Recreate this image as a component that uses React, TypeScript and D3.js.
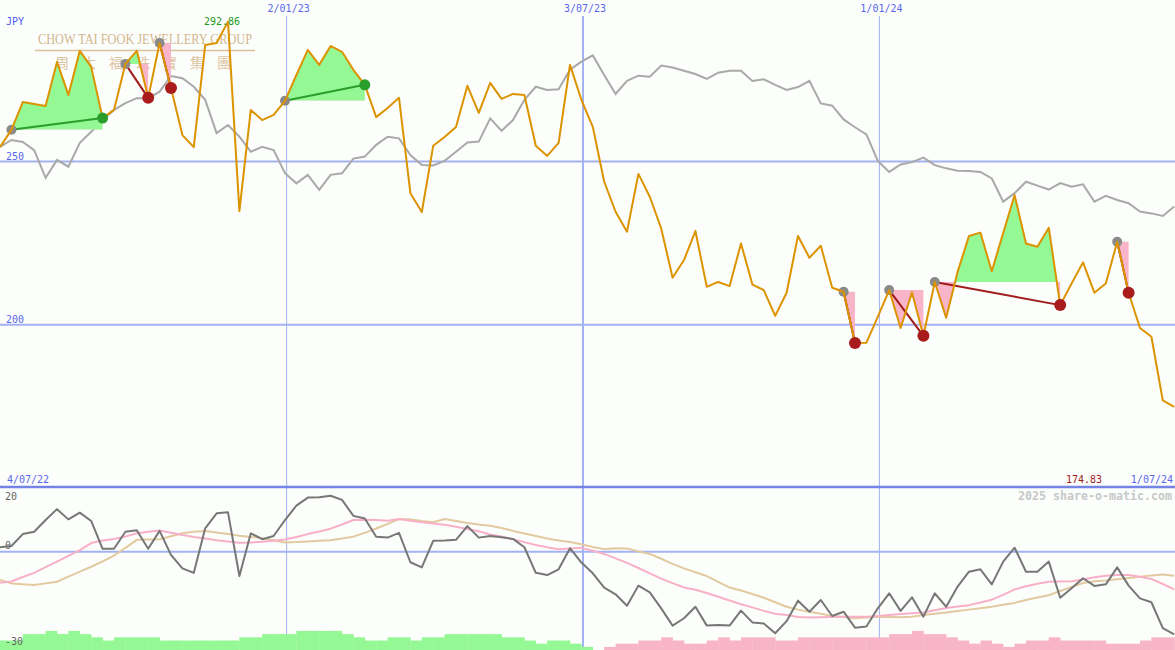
import React, { useEffect } from 'react';
import * as d3 from 'd3';

// ---------------- DATA ----------------
const startDate = new Date(2022, 6, 10);
const firstLabel = '4/07/22';
const lastLabel = '1/07/24';
const currencyLabel = 'JPY';

// weekly closing price (JPY)
const price: number[] = [
  254.4, 259.7, 268.2, 267.6, 267.0, 280.5, 270.4, 283.9, 279.0, 263.3,
  265.8, 279.9, 283.9, 269.5, 286.3, 272.5, 258.1, 254.4, 285.7, 286.3,
  292.86, 234.8, 265.8, 262.7, 264.3, 268.6, 276.5, 284.2, 279.6, 285.4,
  283.6, 278.1, 273.5, 263.6, 266.4, 269.5, 240.3, 234.5, 254.8, 257.5,
  260.6, 273.2, 264.9, 274.1, 269.2, 270.7, 270.4, 254.8, 251.7, 255.7,
  279.6, 268.9, 260.6, 243.8, 234.6, 228.5, 246.2, 239.2, 229.5, 214.4,
  219.8, 228.7, 211.6, 213.1, 211.8, 224.9, 212.3, 210.6, 202.7, 209.8,
  227.2, 220.5, 224.2, 211.3, 210.1, 194.4, 194.5, 202.4, 210.6, 199.0,
  209.9, 196.6, 213.1, 202.1, 216.2, 227.2, 228.2, 216.4, 228.1, 239.7,
  224.9, 223.9, 229.7, 206.0, 212.6, 219.1, 209.8, 212.6, 225.4, 209.8,
  199.0, 196.3, 176.8, 174.83,
];

// comparison (relative) line
const relative: number[] = [
  254.5, 256.6, 256.0, 253.5, 245.0, 250.5, 248.4, 255.7, 259.1, 262.7,
  265.8, 267.9, 269.4, 269.4, 271.4, 276.2, 275.5, 272.9, 268.9, 258.7,
  261.2, 257.6, 253.0, 254.5, 253.5, 246.4, 243.3, 245.9, 241.3, 245.9,
  246.4, 250.9, 251.5, 255.1, 257.6, 257.1, 252.0, 248.9, 248.8, 250.2,
  253.0, 255.8, 256.1, 263.2, 259.4, 262.7, 268.9, 272.9, 271.9, 272.1,
  278.1, 280.6, 282.5, 276.5, 270.7, 274.7, 276.3, 276.0, 279.4, 278.8,
  277.8, 276.8, 275.3, 277.2, 277.8, 277.8, 274.7, 275.2, 273.5, 271.9,
  272.8, 274.7, 267.8, 267.1, 262.9, 260.5, 258.3, 250.2, 246.8, 249.1,
  249.8, 251.2, 248.9, 247.9, 247.2, 247.1, 246.8, 244.8, 237.7, 240.3,
  243.8, 242.6, 241.4, 243.4, 242.3, 243.0, 237.7, 239.5, 238.2, 237.2,
  234.7, 234.1, 233.3, 236.2,
];

// oscillator panel
const momentum: number[] = [
  1.4, 1.8, 5.5, 6.25, 9.9, 13.3, 10.1, 12.2, 9.6, 0.9,
  0.9, 6.25, 6.7, 0.9, 6.5, -1.0, -5.2, -6.6, 7.3, 12.0,
  12.3, -7.6, 5.75, 3.9, 4.9, 9.9, 14.4, 16.9, 17.0, 17.5,
  16.2, 11.2, 10.4, 4.7, 4.4, 5.9, -3.3, -4.9, 3.4, 3.5,
  3.7, 8.0, 4.4, 4.9, 4.5, 4.0, 1.4, -6.6, -7.3, -5.5,
  1.1, -3.4, -6.75, -11.25, -13.3, -16.9, -10.6, -12.7, -17.7, -23.1,
  -20.8, -17.2, -23.1, -22.9, -23.1, -18.4, -22.1, -22.4, -25.5, -21.7,
  -15.3, -18.75, -15.1, -20.1, -18.75, -23.75, -23.4, -17.7, -13.0, -18.5,
  -14.25, -20.3, -13.0, -17.2, -10.9, -6.25, -5.5, -10.2, -3.1, 1.25,
  -6.25, -6.25, -3.1, -14.4, -11.4, -8.3, -10.7, -10.2, -4.9, -10.6,
  -14.6, -15.8, -23.9, -25.8,
];

const signalFast: number[] = [
  -9.7, -9.3, -7.9, -6.6, -4.8, -3.1, -1.3, 0.5, 2.7, 3.5,
  4.0, 4.75, 5.75, 6.2, 6.6, 5.9, 5.2, 4.6, 4.1, 3.6,
  3.2, 2.8, 2.9, 3.1, 3.4, 3.8, 4.6, 5.5, 6.3, 7.2,
  8.5, 9.9, 10.0, 9.9, 9.7, 10.2, 9.7, 9.2, 8.8, 8.4,
  7.8, 7.1, 6.4, 5.4, 4.75, 3.9, 3.0, 2.1, 1.4, 0.8,
  1.0, 1.2, 0.3, -0.7, -2.1, -3.5, -5.1, -6.75, -8.4, -9.8,
  -11.2, -11.9, -12.9, -14.1, -15.25, -16.4, -17.4, -18.5, -19.4, -19.8,
  -20.4, -20.6, -20.5, -20.4, -20.3, -20.3, -20.3, -20.1, -19.8, -19.5,
  -19.2, -19.0, -18.3, -17.6, -17.1, -16.7, -15.9, -15.0, -13.5, -11.8,
  -10.8, -10.0, -9.4, -9.3, -9.2, -8.7, -8.0, -7.5, -7.3, -7.3,
  -7.8, -8.5, -10.1, -11.8,
];

const signalSlow: number[] = [
  -8.8, -9.9, -10.2, -10.4, -9.9, -9.4, -7.8, -6.25, -4.7, -3.0,
  -1.2, 1.2, 3.7, 3.8, 3.9, 4.8, 5.75, 6.2, 6.5, 6.0,
  5.5, 5.0, 4.6, 4.2, 3.6, 2.9, 3.0, 3.2, 3.4, 3.6,
  4.1, 4.7, 5.9, 7.25, 8.7, 10.2, 10.1, 9.6, 9.2, 10.2,
  9.6, 9.0, 8.5, 8.1, 7.4, 6.5, 5.7, 4.9, 4.1, 3.5,
  3.0, 2.3, 1.5, 0.8, 1.1, 1.0, 0.1, -0.7, -2.2, -3.8,
  -5.2, -6.4, -7.6, -9.4, -11.2, -12.1, -13.2, -14.4, -15.8, -17.2,
  -18.1, -18.8, -19.4, -20.1, -20.4, -20.8, -20.6, -20.3, -20.4, -20.5,
  -20.3, -19.8, -19.4, -19.0, -18.5, -18.1, -17.7, -17.2, -16.6, -16.0,
  -15.1, -14.3, -13.6, -12.3, -11.0, -9.8, -9.2, -9.0, -8.6, -8.2,
  -7.8, -7.4, -7.1, -7.5,
];

// trend histogram (positive = green, negative = pink)
const histogram: number[] = [
  3, 3, 5, 5, 6, 5, 6, 5, 4, 3,
  4, 4, 4, 4, 3, 3, 3, 3, 3, 3,
  3, 4, 4, 5, 5, 5, 6, 6, 6, 6,
  5, 4, 3, 3, 4, 4, 3, 4, 4, 5,
  5, 5, 5, 5, 4, 4, 3, 2, 3, 3,
  2, 1, 0, -1, -2, -2, -3, -3, -4, -3,
  -2, -2, -3, -4, -3, -4, -4, -4, -3, -3,
  -4, -4, -4, -4, -4, -4, -4, -4, -5, -5,
  -6, -5, -5, -4, -3, -2, -3, -2, -1, -2,
  -3, -3, -4, -3, -3, -3, -3, -2, -2, -2,
  -3, -4, -4, -4,
];

// trade signals (week indexes)
const tradeEntry: number[] = [1, 11, 14, 25, 74, 78, 82, 98];
const tradeExit: number[] = [9, 13, 15, 32, 75, 81, 93, 99];

// axis grid
const gridDates: Date[] = [new Date(2023, 0, 2), new Date(2023, 6, 3), new Date(2024, 0, 1)];
const gridLabels: string[] = ['2/01/23', '3/07/23', '1/01/24'];
const priceTicks: number[] = [250, 200];
const oscTicks: number[] = [20, 0, -30];

const brandEn = 'CHOW TAI FOOK JEWELLERY GROUP';
const brandZh: string[] = ['周', '大', '福', '珠', '寶', '集', '團'];
const copyright = '2025 share-o-matic.com';

// ---------------- CHART ----------------
const W = 1175;
const H = 650;
const MAIN_BOTTOM = 487;
const HIST_BASE = -30.75;

const dates = price.map((_, i) => new Date(startDate.getFullYear(), startDate.getMonth(), startDate.getDate() + 7 * i));

const x = d3.scaleTime().domain([dates[0], dates[dates.length - 1]]).range([0, 1174.2]);
const yMain = d3.scaleLinear().domain([200, 250]).range([324.7, 161.5]);
const yOsc = d3.scaleLinear().domain([-30, 20]).range([647.7, 487.7]);

const mainLine = d3.line<number>().x((_, i) => x(dates[i])).y((v) => yMain(v));
const oscLine = d3.line<number>().x((_, i) => x(dates[i])).y((v) => yOsc(v));

const MONO = '"DejaVu Sans Mono", monospace';

export default function App() {
  useEffect(() => {
    document.body.style.margin = '0';
  }, []);

  const maxIdx = d3.maxIndex(price);
  const lastVal = price[price.length - 1];

  return (
    <div style={{ position: 'absolute', left: 0, top: 0 }}>
      <svg width={W} height={H} viewBox={`0 0 ${W} ${H}`} style={{ display: 'block', background: '#fcfefb' }}>
        <defs>
          <clipPath id="mainClip">
            <rect x={0} y={0} width={W} height={MAIN_BOTTOM} />
          </clipPath>
          <clipPath id="oscClip">
            <rect x={0} y={MAIN_BOTTOM + 1} width={W} height={H - MAIN_BOTTOM} />
          </clipPath>
          {tradeEntry.map((e, t) => {
            const by = yMain(price[e]);
            return (
              <React.Fragment key={t}>
                <clipPath id={`up${t}`}>
                  <rect x={0} y={0} width={W} height={by} />
                </clipPath>
                <clipPath id={`dn${t}`}>
                  <rect x={0} y={by} width={W} height={MAIN_BOTTOM - by} />
                </clipPath>
              </React.Fragment>
            );
          })}
        </defs>

        {/* watermark */}
        <g fill="#d2b68e" fontFamily='"Liberation Serif", "DejaVu Serif", serif'>
          <text x={38} y={44} fontSize={14.5} textLength={214} lengthAdjust="spacingAndGlyphs">{brandEn}</text>
          <line x1={35} x2={255} y1={50.5} y2={50.5} stroke="#d9c09c" strokeWidth={1.5} />
          {brandZh.map((c, i) => (
            <text key={i} x={62 + i * 27} y={68} fontSize={14} textAnchor="middle" fill="#dcc4a4"
              fontFamily='"Noto Sans CJK TC", "Noto Sans CJK SC", sans-serif'>{c}</text>
          ))}
        </g>

        {/* horizontal grid main */}
        {priceTicks.map((v) => (
          <g key={v}>
            <line x1={0} x2={W} y1={yMain(v)} y2={yMain(v)} stroke="#a3b2f2" strokeWidth={2} />
            <text x={6} y={yMain(v) - 2} fontSize={10} fill="#5a68ee" fontFamily={MONO}>{v}</text>
          </g>
        ))}

        {/* oscillator zero line */}
        <line x1={0} x2={W} y1={yOsc(0)} y2={yOsc(0)} stroke="#a3b2f2" strokeWidth={2} />

        {/* vertical grid */}
        {gridDates.map((d, i) => (
          <g key={i}>
            <line x1={x(d)} x2={x(d)} y1={16} y2={H} stroke="#a3b2f2" strokeWidth={i === 1 ? 2 : 1} />
            <text x={x(d) + 2} y={12} fontSize={10} textAnchor="middle" fill="#5a68ee" fontFamily={MONO}>{gridLabels[i]}</text>
          </g>
        ))}

        {/* separator */}
        <line x1={0} x2={W} y1={MAIN_BOTTOM} y2={MAIN_BOTTOM} stroke="#7383e6" strokeWidth={2.5} />

        {/* histogram */}
        <g>
          {histogram.map((h, i) => {
            if (h === 0) return null;
            const x0 = x(dates[i]);
            const x1 = i < dates.length - 1 ? x(dates[i + 1]) : W;
            const top = yOsc(HIST_BASE + Math.abs(h));
            return (
              <rect key={i} x={x0} y={top} width={x1 - x0 + 0.3} height={H - top}
                fill={h > 0 ? '#94f894' : '#f8b4c8'} />
            );
          })}
        </g>

        {/* oscillator lines */}
        <g clipPath="url(#oscClip)" fill="none" strokeWidth={2} strokeLinejoin="round">
          <path d={oscLine(signalSlow) || ''} stroke="#e2c9a0" />
          <path d={oscLine(signalFast) || ''} stroke="#f8b0c8" />
          <path d={oscLine(momentum) || ''} stroke="#777777" />
        </g>

        {/* main panel */}
        <g clipPath="url(#mainClip)">
          <path d={mainLine(relative) || ''} fill="none" stroke="#a9a9a9" strokeWidth={2} />

          {tradeEntry.map((e, t) => {
            const xEnd = tradeExit[t];
            const base = price[e];
            const seg = price.slice(e, xEnd + 1);
            const area = d3.area<number>()
              .x((_, j) => x(dates[e + j]))
              .y0(yMain(base))
              .y1((v) => yMain(v));
            const d = area(seg) || '';
            return (
              <g key={t}>
                <path d={d} fill="#94f894" clipPath={`url(#up${t})`} />
                <path d={d} fill="#f8b4c8" clipPath={`url(#dn${t})`} />
              </g>
            );
          })}

          {tradeEntry.map((e, t) => {
            const xEnd = tradeExit[t];
            const win = price[xEnd] > price[e];
            return (
              <line key={t} x1={x(dates[e])} y1={yMain(price[e])} x2={x(dates[xEnd])} y2={yMain(price[xEnd])}
                stroke={win ? '#2a9e2a' : '#a01c1c'} strokeWidth={2} />
            );
          })}

          {tradeEntry.map((e, t) => (
            <circle key={t} cx={x(dates[e])} cy={yMain(price[e])} r={5} fill="#8a8a8a" />
          ))}

          <path d={mainLine(price) || ''} fill="none" stroke="#dc9300" strokeWidth={2} strokeLinejoin="round" />

          {tradeExit.map((xi, t) => {
            const win = price[xi] > price[tradeEntry[t]];
            return (
              <circle key={t} cx={x(dates[xi])} cy={yMain(price[xi])} r={win ? 5.5 : 6}
                fill={win ? '#2a9e2a' : '#a81c1c'} />
            );
          })}
        </g>

        {/* labels */}
        <text x={6} y={25} fontSize={10} fill="#4a5af0" fontFamily={MONO}>{currencyLabel}</text>
        <text x={x(dates[maxIdx]) - 6} y={25} fontSize={10} textAnchor="middle" fill="#1c9a1c" fontFamily={MONO}>
          {price[maxIdx].toFixed(2)}
        </text>
        <text x={7} y={483} fontSize={10} fill="#5a68ee" fontFamily={MONO}>{firstLabel}</text>
        <text x={1102} y={483} fontSize={10} textAnchor="end" fill="#a01c1c" fontFamily={MONO}>{lastVal.toFixed(2)}</text>
        <text x={1173} y={483} fontSize={10} textAnchor="end" fill="#5a68ee" fontFamily={MONO}>{lastLabel}</text>
        <text x={1172} y={500} fontSize={11.5} fontWeight="bold" textAnchor="end" fill="#c8c8c8" fontFamily={MONO}
          textLength={154} lengthAdjust="spacingAndGlyphs">{copyright}</text>

        {oscTicks.map((v) => (
          <text key={v} x={v < 0 ? 5 : 5} y={v === 20 ? 500 : v === 0 ? 549 : 645} fontSize={10} fill="#666666" fontFamily={MONO}>
            {v}
          </text>
        ))}
      </svg>
    </div>
  );
}
